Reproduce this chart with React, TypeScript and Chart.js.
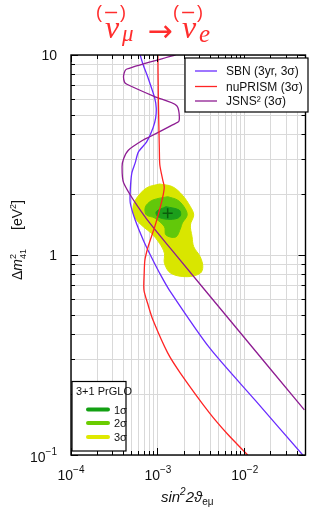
import React, { useEffect, useRef } from 'react';
import { Chart, registerables } from 'chart.js';

Chart.register(...registerables);

// ---------- axis ranges & ticks ----------
const X_MIN = 1e-4;
const X_MAX = 5e-2;
const Y_MIN = 0.1;
const Y_MAX = 10;

const xGridValues = [
  1e-4, 2e-4, 3e-4, 4e-4, 5e-4, 6e-4, 7e-4, 8e-4, 9e-4,
  1e-3, 2e-3, 3e-3, 4e-3, 5e-3, 6e-3, 7e-3, 8e-3, 9e-3,
  1e-2, 2e-2, 3e-2, 4e-2,
];
const yGridValues = [
  0.1, 0.2, 0.3, 0.4, 0.5, 0.6, 0.7, 0.8, 0.9,
  1, 2, 3, 4, 5, 6, 7, 8, 9, 10,
];
const xMajorValues = [1e-4, 1e-3, 1e-2];
const yMajorValues = [0.1, 1, 10];

const xTickValues = [1e-4, 1e-3, 1e-2];
const xTickBases = ['10', '10', '10'];
const xTickExps = ['\u22124', '\u22123', '\u22122'];
const yTickValues = [0.1, 1, 10];
const yTickBases = ['10', '1', '10'];
const yTickExps = ['\u22121', '', ''];

// ---------- series ----------
const sbnX = [6.25e-4, 6.78e-4, 7.72e-4, 9.18e-4, 9.57e-4, 9.42e-4, 8.78e-4, 7.39e-4, 5.96e-4, 5.47e-4, 5.01e-4, 4.81e-4, 4.81e-4, 5.47e-4, 6.78e-4, 8.41e-4, 1.045e-3, 1.354e-3, 3.94e-3, 1.33e-2, 4.65e-2];
const sbnY = [10, 8.91, 7.67, 6.1, 5.43, 4.84, 4.32, 3.67, 3.27, 2.88, 2.57, 2.11, 1.82, 1.5, 1.19, 0.977, 0.813, 0.668, 0.343, 0.187, 0.1];

const nuprismX = [1.0e-3, 1.013e-3, 1.04e-3, 1.053e-3, 1.138e-3, 1.183e-3, 1.138e-3, 1.045e-3, 9.18e-4, 7.72e-4, 7.09e-4, 6.96e-4, 6.91e-4, 7.72e-4, 8.78e-4, 1.296e-3, 1.813e-3, 3.94e-3, 6.36e-3, 1.08e-2];
const nuprismY = [10, 5.96, 3.35, 2.82, 2.37, 2.19, 1.95, 1.68, 1.38, 1.1, 0.944, 0.813, 0.668, 0.562, 0.473, 0.324, 0.257, 0.162, 0.127, 0.1];

const jsnsX = [1.6e-3, 4.4e-4, 4.04e-4, 4.12e-4, 4.4e-4, 9.18e-4, 1.648e-3, 1.753e-3, 1.474e-3, 8.07e-4, 6.78e-4, 4.6e-4, 4.04e-4, 3.87e-4, 4.04e-4, 7.09e-4, 1.411e-3, 7.92e-3, 4.85e-2];
const jsnsY = [10, 8.51, 7.94, 7.33, 7.14, 6.19, 5.58, 4.68, 4.47, 3.9, 3.76, 3.35, 3.04, 2.76, 2.29, 1.554, 1.072, 0.434, 0.168];

// PrGLO allowed regions (closed contours)
const c3X = [1.045e-3, 1.474e-3, 1.909e-3, 2.367e-3, 2.585e-3, 2.367e-3, 2.474e-3, 2.585e-3, 3.066e-3, 3.288e-3, 3.066e-3, 2.173e-3, 1.411e-3, 1.189e-3, 1.189e-3, 1.045e-3, 8.41e-4, 6.78e-4, 5.47e-4, 5.14e-4, 5.51e-4, 7.39e-4, 1.045e-3];
const c3Y = [2.265, 2.195, 1.995, 1.744, 1.585, 1.413, 1.235, 1.1, 0.981, 0.874, 0.81, 0.779, 0.81, 0.909, 1.02, 1.144, 1.284, 1.385, 1.531, 1.679, 1.884, 2.163, 2.265];

const c2X = [1.296e-3, 1.677e-3, 1.995e-3, 2.173e-3, 1.909e-3, 1.827e-3, 1.605e-3, 1.24e-3, 1.189e-3, 9.18e-4, 7.39e-4, 7.09e-4, 7.39e-4, 8.78e-4, 1.296e-3];
const c2Y = [1.957, 1.884, 1.744, 1.585, 1.445, 1.365, 1.23, 1.259, 1.385, 1.531, 1.585, 1.679, 1.778, 1.884, 1.957];

const c1X = [1.24e-3, 1.753e-3, 1.827e-3, 1.677e-3, 1.296e-3, 1.0e-3, 9.57e-4, 1.24e-3];
const c1Y = [1.744, 1.679, 1.585, 1.526, 1.508, 1.554, 1.646, 1.744];

const bestFitX = [1.296e-3];
const bestFitY = [1.616];

// ---------- labels ----------
const lineLabels = ['SBN (3yr, 3\u03c3)', 'nuPRISM (3\u03c3)', 'JSNS\u00b2 (3\u03c3)'];
const contourLegendTitle = '3+1 PrGLO';
const contourLabels = ['1\u03c3', '2\u03c3', '3\u03c3'];

// ---------- styles ----------
const SBN_COLOR = '#6a2cff';
const NUPRISM_COLOR = '#ff2424';
const JSNS_COLOR = '#8e1c92';
const C1_COLOR = '#1c9e1c';
const C2_COLOR = '#62c80a';
const C3_COLOR = '#d9e600';
const LEG_C1 = '#13a013';
const LEG_C2 = '#6acc00';
const LEG_C3 = '#dfe900';
const GRID_COLOR = '#d9d9d9';
const TITLE_COLOR = '#ff2d2d';
const SANS = '"Liberation Sans", "DejaVu Sans", sans-serif';
const SERIF = '"Liberation Serif", "DejaVu Serif", serif';

const pts = (xs: number[], ys: number[]) => xs.map((x, i) => ({ x, y: ys[i] }));

type Part = { t: string; f: string; dy: number; stackWith?: Part };

function drawParts(ctx: CanvasRenderingContext2D, parts: Part[], x: number, y: number) {
  let cx = x;
  for (const p of parts) {
    ctx.font = p.f;
    const w = ctx.measureText(p.t).width;
    ctx.fillText(p.t, cx, y + p.dy);
    let w2 = 0;
    if (p.stackWith) {
      ctx.font = p.stackWith.f;
      w2 = ctx.measureText(p.stackWith.t).width;
      ctx.fillText(p.stackWith.t, cx, y + p.stackWith.dy);
    }
    cx += Math.max(w, w2);
  }
  return cx - x;
}

function measureParts(ctx: CanvasRenderingContext2D, parts: Part[]) {
  let w = 0;
  for (const p of parts) {
    ctx.font = p.f;
    let a = ctx.measureText(p.t).width;
    if (p.stackWith) {
      ctx.font = p.stackWith.f;
      a = Math.max(a, ctx.measureText(p.stackWith.t).width);
    }
    w += a;
  }
  return w;
}

function drawPow(ctx: CanvasRenderingContext2D, base: string, exp: string, anchor: number, baseline: number, align: 'right' | 'center') {
  const parts: Part[] = [{ t: base, f: `14px ${SANS}`, dy: 0 }];
  if (exp) parts.push({ t: exp, f: `10px ${SANS}`, dy: -7 });
  const w = measureParts(ctx, parts);
  const left = align === 'right' ? anchor - w : anchor - w / 2;
  drawParts(ctx, parts, left, baseline);
}

const alignPx = (p: number) => Math.round(p - 0.5) + 0.5;

const overlayPlugin = {
  id: 'overlay',
  afterDraw(chart: any) {
    const { ctx, chartArea: a } = chart;
    const xs = chart.scales.x;
    const ys = chart.scales.y;
    ctx.save();
    ctx.textAlign = 'left';
    ctx.textBaseline = 'alphabetic';

    // frame
    ctx.strokeStyle = '#000';
    ctx.lineWidth = 1.4;
    ctx.strokeRect(a.left, a.top, a.right - a.left, a.bottom - a.top);

    // inward ticks on all four sides
    ctx.lineWidth = 1;
    ctx.beginPath();
    for (const v of xGridValues) {
      const p = alignPx(xs.getPixelForValue(v));
      const len = xMajorValues.includes(v) ? 7 : 4;
      ctx.moveTo(p, a.bottom); ctx.lineTo(p, a.bottom - len);
      ctx.moveTo(p, a.top); ctx.lineTo(p, a.top + len);
    }
    for (const v of yGridValues) {
      const p = alignPx(ys.getPixelForValue(v));
      const len = yMajorValues.includes(v) ? 7 : 4;
      ctx.moveTo(a.left, p); ctx.lineTo(a.left + len, p);
      ctx.moveTo(a.right, p); ctx.lineTo(a.right - len, p);
    }
    ctx.stroke();

    // tick labels
    ctx.fillStyle = '#111';
    xTickValues.forEach((v, i) => {
      drawPow(ctx, xTickBases[i], xTickExps[i], xs.getPixelForValue(v), a.bottom + 25, 'center');
    });
    yTickValues.forEach((v, i) => {
      const e = yTickExps[i];
      drawPow(ctx, yTickBases[i], e, 57, ys.getPixelForValue(v) + (e ? 6.5 : 5), 'right');
    });

    // x axis title
    const xt: Part[] = [
      { t: 'sin', f: `italic 15px ${SANS}`, dy: 0 },
      { t: '2', f: `italic 10px ${SANS}`, dy: -7 },
      { t: '2\u03d1', f: `italic 15px ${SANS}`, dy: 0 },
      { t: 'e\u03bc', f: `10px ${SANS}`, dy: 3 },
    ];
    const xtw = measureParts(ctx, xt);
    drawParts(ctx, xt, (a.left + a.right) / 2 - 1 - xtw / 2, 502);

    // y axis title (rotated)
    ctx.save();
    ctx.translate(22, 280);
    ctx.rotate(-Math.PI / 2);
    const yt1: Part[] = [
      { t: '\u0394', f: `14px ${SANS}`, dy: 0 },
      { t: 'm', f: `italic 14px ${SANS}`, dy: 0 },
      { t: '2', f: `9px ${SANS}`, dy: -6, stackWith: { t: '41', f: `9px ${SANS}`, dy: 3.5 } },
    ];
    drawParts(ctx, yt1, 0, 0);
    const yt2: Part[] = [
      { t: '[eV', f: `14px ${SANS}`, dy: 0 },
      { t: '2', f: `9px ${SANS}`, dy: -6 },
      { t: ']', f: `14px ${SANS}`, dy: 0 },
    ];
    drawParts(ctx, yt2, 50, 0);
    ctx.restore();

    // title
    ctx.fillStyle = TITLE_COLOR;
    ctx.strokeStyle = TITLE_COLOR;
    const drawBar = (cx: number) => {
      ctx.font = `18px ${SANS}`;
      ctx.textAlign = 'center';
      ctx.fillText('(', cx - 12, 18);
      ctx.fillText(')', cx + 12, 18);
      ctx.textAlign = 'left';
      ctx.lineWidth = 1.5;
      ctx.beginPath();
      ctx.moveTo(cx - 6, 12.5);
      ctx.lineTo(cx + 6, 12.5);
      ctx.stroke();
    };
    ctx.font = `italic 32px ${SERIF}`;
    ctx.fillText('\u03bd', 105, 38);
    const nw = ctx.measureText('\u03bd').width;
    ctx.font = `italic 23px ${SERIF}`;
    ctx.fillText('\u03bc', 122, 41);
    ctx.font = `italic 32px ${SERIF}`;
    ctx.fillText('\u03bd', 182, 38);
    ctx.font = `italic 25px ${SERIF}`;
    ctx.fillText('e', 199, 42);
    ctx.font = `30px "DejaVu Sans", sans-serif`;
    ctx.textAlign = 'center';
    ctx.fillText('\u2192', 160, 41);
    ctx.textAlign = 'left';
    drawBar(105 + nw / 2 - 1);
    drawBar(182 + nw / 2 - 1);

    // legend: lines
    ctx.fillStyle = '#fff';
    ctx.fillRect(185, 58, 123, 54);
    ctx.strokeStyle = '#000';
    ctx.lineWidth = 1.2;
    ctx.strokeRect(185, 58, 123, 54);
    const lineColors = [SBN_COLOR, NUPRISM_COLOR, JSNS_COLOR];
    const rowBase = [75, 90.5, 105];
    lineLabels.forEach((lab, i) => {
      ctx.strokeStyle = lineColors[i];
      ctx.lineWidth = 1.3;
      ctx.beginPath();
      ctx.moveTo(195, rowBase[i] - 4);
      ctx.lineTo(217, rowBase[i] - 4);
      ctx.stroke();
      ctx.fillStyle = '#111';
      ctx.font = `12px ${SANS}`;
      ctx.fillText(lab, 226, rowBase[i]);
    });

    // legend: contours
    ctx.fillStyle = '#fff';
    ctx.fillRect(72, 381.5, 54, 69.5);
    ctx.strokeStyle = '#000';
    ctx.lineWidth = 1.2;
    ctx.strokeRect(72, 381.5, 54, 69.5);
    ctx.fillStyle = '#111';
    ctx.font = `11px ${SANS}`;
    ctx.fillText(contourLegendTitle, 76, 395);
    const legCols = [LEG_C1, LEG_C2, LEG_C3];
    const cy = [409.5, 423, 437];
    contourLabels.forEach((lab, i) => {
      ctx.strokeStyle = legCols[i];
      ctx.lineWidth = 4;
      ctx.lineCap = 'round';
      ctx.beginPath();
      ctx.moveTo(88, cy[i]);
      ctx.lineTo(108, cy[i]);
      ctx.stroke();
      ctx.fillStyle = '#111';
      ctx.font = `11px ${SANS}`;
      ctx.fillText(lab, 114, cy[i] + 4);
    });
    ctx.restore();
  },
};

export default function App() {
  const ref = useRef<HTMLCanvasElement>(null);
  useEffect(() => {
    const lineDs = (data: any, color: string, order: number) => ({
      data, showLine: true, borderColor: color, backgroundColor: color,
      borderWidth: 1.3, pointRadius: 0, fill: false, tension: 0.25, order,
    });
    const areaDs = (data: any, color: string, order: number) => ({
      data, showLine: true, borderColor: color, backgroundColor: color,
      borderWidth: 1, pointRadius: 0, fill: 'shape', tension: 0.35, order,
    });
    const chart = new Chart(ref.current!, {
      type: 'scatter',
      data: {
        datasets: [
          lineDs(pts(jsnsX, jsnsY), JSNS_COLOR, 1),
          lineDs(pts(sbnX, sbnY), SBN_COLOR, 2),
          lineDs(pts(nuprismX, nuprismY), NUPRISM_COLOR, 0),
          {
            data: pts(bestFitX, bestFitY), showLine: false, pointStyle: 'cross',
            pointRadius: 5, borderColor: '#0b5c0b', borderWidth: 1.5, order: 3,
          },
          areaDs(pts(c1X, c1Y), C1_COLOR, 10),
          areaDs(pts(c2X, c2Y), C2_COLOR, 11),
          areaDs(pts(c3X, c3Y), C3_COLOR, 12),
        ] as any,
      },
      options: {
        animation: false,
        responsive: false,
        devicePixelRatio: 1,
        events: [],
        layout: { padding: { top: 55, right: 1, bottom: 0, left: 0 } },
        plugins: { legend: { display: false }, tooltip: { enabled: false }, title: { display: false } },
        scales: {
          x: {
            type: 'logarithmic', min: X_MIN, max: X_MAX, position: 'bottom',
            afterBuildTicks: (s: any) => { s.ticks = xGridValues.map((v) => ({ value: v })); },
            afterFit: (s: any) => { s.height = 52; },
            ticks: { display: false },
            grid: { color: GRID_COLOR, lineWidth: 1, drawTicks: false },
            border: { display: false },
          },
          y: {
            type: 'logarithmic', min: Y_MIN, max: Y_MAX, position: 'left',
            afterBuildTicks: (s: any) => { s.ticks = yGridValues.map((v) => ({ value: v })); },
            afterFit: (s: any) => { s.width = 71; },
            ticks: { display: false },
            grid: { color: GRID_COLOR, lineWidth: 1, drawTicks: false },
            border: { display: false },
          },
        },
      } as any,
      plugins: [overlayPlugin],
    });
    return () => chart.destroy();
  }, []);
  return (
    <div style={{ position: 'absolute', left: 0, top: 0, width: 310, height: 507, overflow: 'hidden', background: '#fff' }}>
      <canvas ref={ref} width={312} height={507} style={{ display: 'block', width: 312, height: 507 }} />
    </div>
  );
}
